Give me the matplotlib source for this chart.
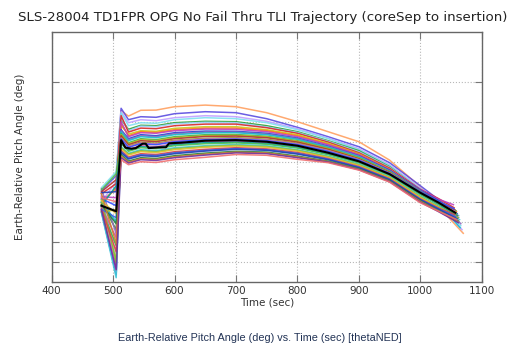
#!/usr/bin/env python3
"""Monte Carlo pitch angle trajectories vs time (coreSep to insertion)."""
import matplotlib
matplotlib.use('Agg')
import matplotlib.pyplot as plt

# Shared time knots (sec); each run ends at its own end time
time_knots = [481, 505, 513, 525, 545, 570, 600, 650, 700, 750,
              800, 850, 900, 950, 1000, 1030]

# Nominal trajectory (black), with its own time points
nominal_time = [481, 505, 513, 520, 530, 537, 548, 553, 558, 575, 586, 591,
                610, 650, 700, 750, 800, 850, 900, 950, 1000, 1030, 1057]
nominal_pitch = [3.80, 3.52, 7.08, 6.70, 6.65, 6.68, 6.90, 6.90, 6.68, 6.72,
                 6.72, 6.92, 6.95, 7.05, 7.08, 7.00, 6.80, 6.45, 6.02, 5.38,
                 4.45, 3.95, 3.45]

# Dispersed runs: values at time_knots plus the end point
dispersed_runs = [
    [4.10, 4.60, 8.55, 8.28, 8.57, 8.58, 8.75, 8.83, 8.75, 8.45, 8.00, 7.50, 7.00, 6.08, 4.75, 3.75, 2.42],
    [4.55, 5.30, 8.67, 8.10, 8.25, 8.22, 8.40, 8.50, 8.45, 8.15, 7.72, 7.25, 6.75, 5.95, 4.80, 4.10, 3.20],
    [4.00, 5.00, 8.50, 7.95, 8.10, 8.05, 8.20, 8.30, 8.25, 8.02, 7.65, 7.18, 6.65, 5.85, 4.70, 4.00, 2.60],
    [4.70, 5.50, 8.45, 7.80, 7.95, 7.92, 8.10, 8.20, 8.15, 7.95, 7.60, 7.15, 6.60, 5.80, 4.65, 3.95, 2.80],
    [3.95, 2.60, 8.10, 7.62, 7.82, 7.80, 7.95, 8.02, 8.00, 7.80, 7.50, 7.05, 6.55, 5.75, 4.60, 4.05, 3.55],
    [4.35, 1.30, 8.20, 7.55, 7.78, 7.75, 7.90, 7.97, 7.95, 7.74, 7.46, 7.02, 6.50, 5.72, 4.64, 4.08, 3.30],
    [4.40, 4.90, 8.30, 7.48, 7.68, 7.65, 7.80, 7.88, 7.88, 7.70, 7.42, 6.98, 6.45, 5.68, 4.62, 4.15, 3.70],
    [3.60, 1.10, 7.80, 7.38, 7.55, 7.52, 7.67, 7.75, 7.75, 7.60, 7.35, 6.92, 6.40, 5.62, 4.55, 3.98, 3.00],
    [3.90, 4.70, 7.90, 7.30, 7.50, 7.46, 7.60, 7.68, 7.68, 7.55, 7.30, 6.88, 6.38, 5.62, 4.58, 4.06, 3.50],
    [4.25, 4.20, 8.00, 7.25, 7.45, 7.42, 7.55, 7.63, 7.62, 7.50, 7.25, 6.85, 6.35, 5.60, 4.60, 4.12, 3.85],
    [3.50, 0.35, 7.60, 7.15, 7.35, 7.30, 7.45, 7.53, 7.52, 7.42, 7.18, 6.78, 6.30, 5.58, 4.58, 4.05, 3.40],
    [4.65, 2.40, 7.55, 7.10, 7.30, 7.25, 7.40, 7.48, 7.48, 7.38, 7.15, 6.75, 6.28, 5.55, 4.55, 4.00, 2.90],
    [4.00, 3.00, 7.50, 7.05, 7.25, 7.20, 7.35, 7.44, 7.45, 7.35, 7.12, 6.72, 6.25, 5.52, 4.50, 3.90, 2.70],
    [3.70, 1.80, 7.40, 6.95, 7.15, 7.10, 7.25, 7.35, 7.36, 7.27, 7.05, 6.67, 6.20, 5.50, 4.52, 4.00, 3.55],
    [3.48, 3.60, 7.35, 6.90, 7.10, 7.05, 7.20, 7.30, 7.32, 7.24, 7.02, 6.65, 6.18, 5.48, 4.50, 3.96, 3.45],
    [4.50, 5.10, 7.30, 6.85, 7.05, 7.00, 7.15, 7.26, 7.28, 7.20, 6.98, 6.62, 6.15, 5.46, 4.48, 3.98, 3.60],
    [3.55, 0.80, 7.20, 6.78, 6.97, 6.92, 7.07, 7.17, 7.20, 7.12, 6.92, 6.57, 6.12, 5.44, 4.46, 3.92, 3.30],
    [4.30, 0.50, 7.18, 6.75, 6.93, 6.88, 7.03, 7.13, 7.16, 7.08, 6.89, 6.55, 6.10, 5.43, 4.47, 3.94, 3.50],
    [4.15, 3.80, 7.15, 6.72, 6.90, 6.85, 7.00, 7.10, 7.13, 7.05, 6.86, 6.52, 6.08, 5.42, 4.50, 4.02, 3.65],
    [3.75, 2.20, 7.00, 6.62, 6.80, 6.75, 6.90, 7.00, 7.02, 6.95, 6.76, 6.42, 6.00, 5.36, 4.40, 3.90, 3.20],
    [3.80, 4.80, 6.95, 6.57, 6.75, 6.70, 6.85, 6.95, 6.98, 6.91, 6.72, 6.38, 5.97, 5.33, 4.38, 3.86, 3.30],
    [4.60, 5.40, 6.90, 6.52, 6.70, 6.65, 6.80, 6.90, 6.94, 6.87, 6.68, 6.35, 5.94, 5.30, 4.35, 3.88, 3.40],
    [3.45, 0.20, 6.75, 6.42, 6.60, 6.55, 6.70, 6.80, 6.86, 6.80, 6.60, 6.28, 5.88, 5.25, 4.28, 3.78, 3.10],
    [4.10, 1.00, 6.70, 6.38, 6.55, 6.50, 6.65, 6.76, 6.82, 6.76, 6.57, 6.25, 5.85, 5.22, 4.25, 3.75, 3.20],
    [4.05, 3.40, 6.65, 6.33, 6.50, 6.45, 6.60, 6.72, 6.78, 6.72, 6.53, 6.22, 5.82, 5.20, 4.22, 3.72, 3.25],
    [3.65, 1.50, 6.55, 6.23, 6.40, 6.36, 6.50, 6.62, 6.70, 6.64, 6.46, 6.16, 5.76, 5.15, 4.15, 3.68, 3.35],
    [3.62, 3.20, 6.50, 6.18, 6.35, 6.31, 6.45, 6.57, 6.66, 6.60, 6.42, 6.13, 5.73, 5.12, 4.12, 3.65, 3.25],
    [4.45, 4.50, 6.45, 6.13, 6.30, 6.26, 6.40, 6.53, 6.62, 6.57, 6.38, 6.10, 5.70, 5.10, 4.10, 3.62, 3.15],
    [3.85, 2.90, 6.35, 6.03, 6.20, 6.16, 6.30, 6.43, 6.52, 6.48, 6.28, 6.03, 5.65, 5.05, 4.05, 3.55, 3.05],
    [4.40, 1.90, 6.28, 5.98, 6.15, 6.11, 6.25, 6.38, 6.48, 6.44, 6.24, 6.00, 5.62, 5.02, 4.02, 3.52, 3.00],
    [3.58, 0.60, 6.20, 5.93, 6.10, 6.06, 6.20, 6.33, 6.44, 6.40, 6.20, 5.98, 5.60, 5.00, 3.98, 3.50, 2.95],
    [4.20, 4.00, 6.10, 5.85, 6.00, 5.96, 6.10, 6.22, 6.36, 6.32, 6.12, 5.95, 5.58, 4.98, 3.95, 3.52, 3.10],
]
run_end_times = [1070, 1062, 1068, 1066, 1058, 1063, 1055, 1063, 1059, 1054, 1060,
                 1066, 1065, 1057, 1058, 1056, 1061, 1057, 1055, 1062, 1060, 1058,
                 1064, 1062, 1059, 1056, 1058, 1060, 1061, 1061, 1062, 1060]
run_colors = ['#ffa060', '#5a4ce0', '#c0a0ff', '#80e0f0', '#2ca02c', '#9ad0ff',
              '#d62728', '#c8c820', '#ff7f0e', '#c040c0', '#1f3fd0', '#9467bd',
              '#17becf', '#3cb04a', '#bcbd22', '#b03030', '#8c8c20', '#e377c2',
              '#3050ff', '#d050a0', '#00a0a0', '#50c050', '#40c8d8', '#7fbf3f',
              '#e0c030', '#e04040', '#4060e0', '#2040b0', '#208040', '#d08030',
              '#7030a0', '#f07070']

x_ticks = [400, 500, 600, 700, 800, 900, 1000, 1100]
y_grid = [1, 2, 3, 4, 5, 6, 7, 8, 10]

title = 'SLS-28004 TD1FPR OPG No Fail Thru TLI Trajectory (coreSep to insertion)'
caption = 'Earth-Relative Pitch Angle (deg) vs. Time (sec) [thetaNED]'


def main():
    fig = plt.figure(figsize=(5.19, 3.46), dpi=100)
    ax = fig.add_axes([0.0996, 0.1858, 0.8285, 0.7226])

    # Dispersed runs
    for run, t_end, color in zip(dispersed_runs, run_end_times, run_colors):
        ax.plot(time_knots + [t_end], run, '-', color=color, lw=1.1, alpha=0.9)
    # Nominal on top
    ax.plot(nominal_time, nominal_pitch, '-', color='k', lw=1.5)

    ax.set_xlim(400, 1100)
    ax.set_ylim(0, 12.5)
    ax.set_xticks(x_ticks)
    ax.set_xticklabels([str(v) for v in x_ticks], fontsize=7.5, color='#333333')
    ax.set_yticks(y_grid)
    ax.set_yticklabels([])
    ax.grid(True, ls=':', color='#b8b8b8', lw=0.8)
    ax.tick_params(direction='in', length=5, width=0.8, color='#777777',
                   top=True, right=True, pad=3)
    for spine in ax.spines.values():
        spine.set_color('#666666')
        spine.set_linewidth(1.0)

    ax.set_xlabel('Time (sec)', fontsize=7.5, color='#333333', labelpad=1)
    ax.set_ylabel('Earth-Relative Pitch Angle (deg)', fontsize=7.5,
                  color='#333333', labelpad=16)
    ax.set_title(title, fontsize=9.6, color='#222222', pad=8, x=0.49)
    fig.text(0.5, 0.023, caption, ha='center', va='center', fontsize=7.8,
             family='Liberation Sans', color='#223355')

    plt.savefig('out.png', dpi=100)


if __name__ == '__main__':
    main()
